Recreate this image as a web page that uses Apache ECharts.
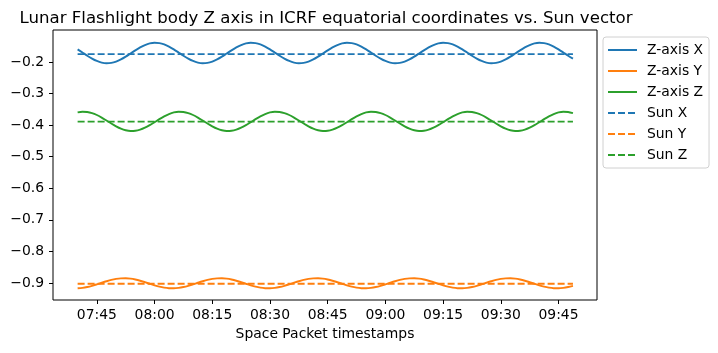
<!DOCTYPE html>
<html>
<head>
<meta charset="utf-8">
<script src="https://cdn.jsdelivr.net/npm/echarts@6/dist/echarts.min.js"></script>
<style>
  html, body { margin: 0; padding: 0; background: #fff; }
  #chart { width: 718px; height: 353px; }
</style>
</head>
<body>
<div id="chart"></div>
<script>
// timestamps of the samples (every 75 s)
const times = [
  '07:40:00','07:41:15','07:42:30','07:43:45','07:45:00','07:46:15','07:47:30','07:48:45',
  '07:50:00','07:51:15','07:52:30','07:53:45','07:55:00','07:56:15','07:57:30','07:58:45',
  '08:00:00','08:01:15','08:02:30','08:03:45','08:05:00','08:06:15','08:07:30','08:08:45',
  '08:10:00','08:11:15','08:12:30','08:13:45','08:15:00','08:16:15','08:17:30','08:18:45',
  '08:20:00','08:21:15','08:22:30','08:23:45','08:25:00','08:26:15','08:27:30','08:28:45',
  '08:30:00','08:31:15','08:32:30','08:33:45','08:35:00','08:36:15','08:37:30','08:38:45',
  '08:40:00','08:41:15','08:42:30','08:43:45','08:45:00','08:46:15','08:47:30','08:48:45',
  '08:50:00','08:51:15','08:52:30','08:53:45','08:55:00','08:56:15','08:57:30','08:58:45',
  '09:00:00','09:01:15','09:02:30','09:03:45','09:05:00','09:06:15','09:07:30','09:08:45',
  '09:10:00','09:11:15','09:12:30','09:13:45','09:15:00','09:16:15','09:17:30','09:18:45',
  '09:20:00','09:21:15','09:22:30','09:23:45','09:25:00','09:26:15','09:27:30','09:28:45',
  '09:30:00','09:31:15','09:32:30','09:33:45','09:35:00','09:36:15','09:37:30','09:38:45',
  '09:40:00','09:41:15','09:42:30','09:43:45','09:45:00','09:46:15','09:47:30','09:48:45'
]

// body Z axis components
const zAxisX = [
  -0.1599,-0.1699,-0.1800,-0.1893,-0.1968,-0.2019,-0.2040,-0.2029,-0.1987,-0.1919,
  -0.1831,-0.1731,-0.1630,-0.1537,-0.1462,-0.1411,-0.1390,-0.1401,-0.1443,-0.1511,
  -0.1599,-0.1699,-0.1800,-0.1893,-0.1968,-0.2019,-0.2040,-0.2029,-0.1987,-0.1919,
  -0.1831,-0.1731,-0.1630,-0.1537,-0.1462,-0.1411,-0.1390,-0.1401,-0.1443,-0.1511,
  -0.1599,-0.1699,-0.1800,-0.1893,-0.1968,-0.2019,-0.2040,-0.2029,-0.1987,-0.1919,
  -0.1831,-0.1731,-0.1630,-0.1537,-0.1462,-0.1411,-0.1390,-0.1401,-0.1443,-0.1511,
  -0.1599,-0.1699,-0.1800,-0.1893,-0.1968,-0.2019,-0.2040,-0.2029,-0.1987,-0.1919,
  -0.1831,-0.1731,-0.1630,-0.1537,-0.1462,-0.1411,-0.1390,-0.1401,-0.1443,-0.1511,
  -0.1599,-0.1699,-0.1800,-0.1893,-0.1968,-0.2019,-0.2040,-0.2029,-0.1987,-0.1919,
  -0.1831,-0.1731,-0.1630,-0.1537,-0.1462,-0.1411,-0.1390,-0.1401,-0.1443,-0.1511,
  -0.1599,-0.1699,-0.1800,-0.1893
]
const zAxisY = [
  -0.9169,-0.9156,-0.9129,-0.9091,-0.9044,-0.8994,-0.8946,-0.8903,-0.8872,-0.8854,
  -0.8851,-0.8864,-0.8891,-0.8929,-0.8976,-0.9026,-0.9075,-0.9117,-0.9148,-0.9166,
  -0.9169,-0.9156,-0.9129,-0.9091,-0.9044,-0.8994,-0.8946,-0.8903,-0.8872,-0.8854,
  -0.8851,-0.8864,-0.8891,-0.8929,-0.8976,-0.9026,-0.9075,-0.9117,-0.9148,-0.9166,
  -0.9169,-0.9156,-0.9129,-0.9091,-0.9044,-0.8994,-0.8946,-0.8903,-0.8872,-0.8854,
  -0.8851,-0.8864,-0.8891,-0.8929,-0.8976,-0.9026,-0.9075,-0.9117,-0.9148,-0.9166,
  -0.9169,-0.9156,-0.9129,-0.9091,-0.9044,-0.8994,-0.8946,-0.8903,-0.8872,-0.8854,
  -0.8851,-0.8864,-0.8891,-0.8929,-0.8976,-0.9026,-0.9075,-0.9117,-0.9148,-0.9166,
  -0.9169,-0.9156,-0.9129,-0.9091,-0.9044,-0.8994,-0.8946,-0.8903,-0.8872,-0.8854,
  -0.8851,-0.8864,-0.8891,-0.8929,-0.8976,-0.9026,-0.9075,-0.9117,-0.9148,-0.9166,
  -0.9169,-0.9156,-0.9129,-0.9091
]
const zAxisZ = [
  -0.3598,-0.3575,-0.3582,-0.3618,-0.3679,-0.3760,-0.3853,-0.3949,-0.4037,-0.4111,
  -0.4162,-0.4185,-0.4178,-0.4142,-0.4081,-0.4000,-0.3907,-0.3811,-0.3723,-0.3649,
  -0.3598,-0.3575,-0.3582,-0.3618,-0.3679,-0.3760,-0.3853,-0.3949,-0.4037,-0.4111,
  -0.4162,-0.4185,-0.4178,-0.4142,-0.4081,-0.4000,-0.3907,-0.3811,-0.3723,-0.3649,
  -0.3598,-0.3575,-0.3582,-0.3618,-0.3679,-0.3760,-0.3853,-0.3949,-0.4037,-0.4111,
  -0.4162,-0.4185,-0.4178,-0.4142,-0.4081,-0.4000,-0.3907,-0.3811,-0.3723,-0.3649,
  -0.3598,-0.3575,-0.3582,-0.3618,-0.3679,-0.3760,-0.3853,-0.3949,-0.4037,-0.4111,
  -0.4162,-0.4185,-0.4178,-0.4142,-0.4081,-0.4000,-0.3907,-0.3811,-0.3723,-0.3649,
  -0.3598,-0.3575,-0.3582,-0.3618,-0.3679,-0.3760,-0.3853,-0.3949,-0.4037,-0.4111,
  -0.4162,-0.4185,-0.4178,-0.4142,-0.4081,-0.4000,-0.3907,-0.3811,-0.3723,-0.3649,
  -0.3598,-0.3575,-0.3582,-0.3618
]

// sun vector (constant over the pass)
const sunX = [-0.175, -0.175]
const sunY = [-0.9025, -0.9025]
const sunZ = [-0.389, -0.389]

const xTicks = ['07:45','08:00','08:15','08:30','08:45','09:00','09:15','09:30','09:45']
const yTicks = [-0.9,-0.8,-0.7,-0.6,-0.5,-0.4,-0.3,-0.2]

const blue = '#1f77b4', orange = '#ff7f0e', green = '#2ca02c'

// 'HH:MM(:SS)' -> minutes since midnight
function toMin(s) {
  let p = s.split(':').map(Number)
  return p[0] * 60 + p[1] + (p[2] || 0) / 60
}
function minLabel(v) {
  let h = Math.floor(v / 60), m = Math.round(v - h * 60)
  return String(h).padStart(2, '0') + ':' + String(m).padStart(2, '0')
}

const xs = times.map(toMin)
const sunTimes = [xs[0], xs[xs.length - 1]]
const pair = (tt, vals) => vals.map((v, i) => [tt[i], v])

const font = 'DejaVu Sans'
const fs = 13.9

function solid(name, color, vals) {
  return {
    name, type: 'line', data: pair(xs, vals), smooth: 0.3,
    symbol: 'none', lineStyle: { color, width: 1.9 }, itemStyle: { color }
  }
}
function dashed(name, color, vals) {
  return {
    name, type: 'line', data: pair(sunTimes, vals),
    symbol: 'none', lineStyle: { color, width: 1.9, type: [7, 3] }, itemStyle: { color }
  }
}

const chart = echarts.init(document.getElementById('chart'))

let option = {
  animation: false,
  title: {
    text: 'Lunar Flashlight body Z axis in ICRF equatorial coordinates vs. Sun vector',
    left: 321, top: 5, textAlign: 'center',
    textStyle: { fontFamily: font, fontSize: 16.6, fontWeight: 'normal', color: '#000' }
  },
  legend: {
    orient: 'vertical', left: 603, top: 37,
    itemWidth: 29, itemHeight: 14, itemGap: 7,
    padding: [6, 6, 6, 4],
    borderColor: '#d0d0d0', borderWidth: 1, borderRadius: 3,
    itemStyle: { opacity: 0 },
    textStyle: { fontFamily: font, fontSize: fs, color: '#000', padding: [0, 0, 0, 5] },
    data: ['Z-axis X', 'Z-axis Y', 'Z-axis Z', 'Sun X', 'Sun Y', 'Sun Z']
  },
  grid: {
    left: 53, right: 121, top: 30, bottom: 53,
    show: true, borderColor: '#000', borderWidth: 1
  },
  xAxis: {
    type: 'value', min: 453.6, max: 595,
    name: 'Space Packet timestamps', nameLocation: 'middle', nameGap: 27,
    nameTextStyle: { fontFamily: font, fontSize: fs, color: '#000' },
    axisLine: { show: false },
    splitLine: { show: false },
    axisTick: { show: true, length: 4, lineStyle: { color: '#000' }, customValues: xTicks.map(toMin) },
    axisLabel: {
      fontFamily: font, fontSize: fs, color: '#000', margin: 8,
      customValues: xTicks.map(toMin), formatter: v => minLabel(v)
    }
  },
  yAxis: {
    type: 'value', min: -0.954, max: -0.0986,
    axisLine: { show: false },
    splitLine: { show: false },
    axisTick: { show: true, length: 4, lineStyle: { color: '#000' }, customValues: yTicks },
    axisLabel: {
      fontFamily: font, fontSize: fs, color: '#000', margin: 9,
      customValues: yTicks, formatter: v => v.toFixed(1).replace('-', '\u2212')
    }
  },
  series: [
    solid('Z-axis X', blue, zAxisX),
    solid('Z-axis Y', orange, zAxisY),
    solid('Z-axis Z', green, zAxisZ),
    dashed('Sun X', blue, sunX),
    dashed('Sun Y', orange, sunY),
    dashed('Sun Z', green, sunZ)
  ]
}

chart.setOption(option)
</script>
</body>
</html>
